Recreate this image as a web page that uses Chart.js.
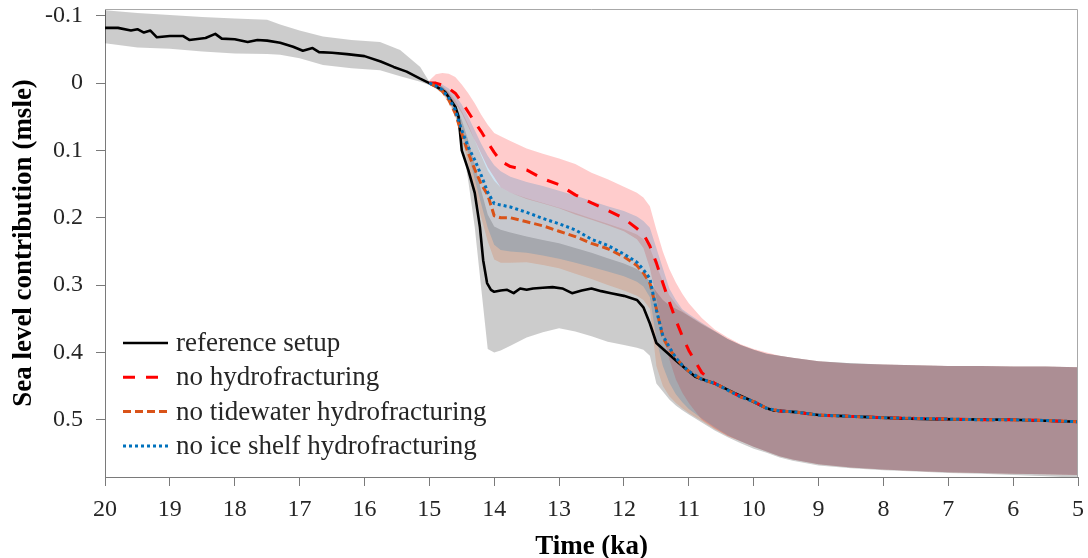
<!DOCTYPE html>
<html>
<head>
<meta charset="utf-8">
<script src="https://cdn.jsdelivr.net/npm/chart.js@4/dist/chart.umd.min.js"></script>
<style>
  html, body { margin: 0; padding: 0; background: #ffffff; }
  #wrap { position: relative; width: 1088px; height: 558px; }
</style>
</head>
<body>
<div id="wrap"><canvas id="c" width="1088" height="558"></canvas></div>
<script>
// ---------------- data (time in ka, sea level contribution in msle) ----------------
const xTicks = [5, 6, 7, 8, 9, 10, 11, 12, 13, 14, 15, 16, 17, 18, 19, 20];
const yTicks = [-0.1, 0, 0.1, 0.2, 0.3, 0.4, 0.5];

// reference setup line
const refTime = [20.0, 19.8, 19.6, 19.5, 19.4, 19.3, 19.2, 19.0, 18.8, 18.7, 18.45, 18.3, 18.2, 18.0, 17.8, 17.65, 17.5, 17.3, 17.1, 16.95, 16.8, 16.7, 16.5, 16.27, 16.0, 15.75, 15.55, 15.35, 15.15,
  15.0, 14.9, 14.76, 14.6, 14.55, 14.5, 14.4, 14.3, 14.22, 14.17, 14.11, 14.05, 14.0, 13.9, 13.8, 13.7, 13.6, 13.5, 13.4, 13.25, 13.1, 12.95, 12.8, 12.65, 12.5, 12.35, 12.2, 12.0, 11.8, 11.7, 11.6, 11.5, 11.35, 11.15, 10.9, 10.6, 10.3, 10.05, 9.8, 9.7, 9.3, 9.0, 8.5, 7.75, 7.25, 6.0, 5.0];
const referenceLine = [-0.082, -0.082, -0.078, -0.080, -0.075, -0.078, -0.068, -0.070, -0.070, -0.064, -0.067, -0.073, -0.066, -0.065, -0.061, -0.064, -0.063, -0.060, -0.054, -0.048, -0.052, -0.046, -0.045, -0.043, -0.040, -0.032, -0.024, -0.017, -0.007,
  0.0, 0.005, 0.013, 0.035, 0.05, 0.10, 0.129, 0.163, 0.214, 0.263, 0.297, 0.307, 0.310, 0.308, 0.307, 0.312, 0.305, 0.307, 0.305, 0.304, 0.303, 0.305, 0.312, 0.308, 0.305, 0.309, 0.312, 0.316, 0.322, 0.333, 0.357, 0.386, 0.399, 0.416, 0.436, 0.446, 0.46, 0.471, 0.483, 0.486, 0.489, 0.493, 0.495, 0.498, 0.499, 0.500, 0.503];

// reference setup spread
const refBandTime = [20.0, 19.5, 19.0, 18.5, 18.0, 17.5, 17.3, 17.0, 16.64, 16.2, 15.76, 15.45, 15.14,
  15.0, 14.9, 14.8, 14.7, 14.6, 14.5, 14.4, 14.3, 14.2, 14.1, 14.0, 13.9, 13.75, 13.5, 13.25, 13.0, 12.75, 12.5, 12.25, 12.0, 11.8, 11.7, 11.6, 11.5, 11.4, 11.3, 11.2, 11.1, 11.0, 10.8, 10.6, 10.4, 10.2, 10.0, 9.8, 9.6, 9.4, 9.0, 8.5, 8.0, 7.5, 7.0, 6.5, 6.0, 5.5, 5.0];
const refUpper = [-0.108, -0.104, -0.101, -0.098, -0.096, -0.094, -0.087, -0.078, -0.069, -0.064, -0.061, -0.049, -0.024,
  -0.002, 0.0, 0.005, 0.015, 0.03, 0.055, 0.085, 0.12, 0.16, 0.195, 0.213, 0.218, 0.222, 0.228, 0.233, 0.238, 0.245, 0.252, 0.26, 0.268, 0.276, 0.283, 0.295, 0.31, 0.322, 0.33, 0.335, 0.34, 0.346, 0.358, 0.369, 0.38, 0.389, 0.396, 0.402, 0.405, 0.408, 0.413, 0.416, 0.418, 0.419, 0.42, 0.42, 0.421, 0.421, 0.422];
const refLower = [-0.059, -0.053, -0.051, -0.047, -0.044, -0.043, -0.042, -0.037, -0.027, -0.022, -0.019, -0.010, -0.002,
  0.003, 0.008, 0.015, 0.025, 0.048, 0.088, 0.145, 0.214, 0.305, 0.395, 0.40, 0.397, 0.39, 0.378, 0.37, 0.364, 0.369, 0.376, 0.384, 0.389, 0.393, 0.396, 0.405, 0.446, 0.458, 0.47, 0.479, 0.486, 0.492, 0.504, 0.516, 0.526, 0.535, 0.543, 0.549, 0.556, 0.561, 0.568, 0.572, 0.575, 0.577, 0.579, 0.58, 0.582, 0.584, 0.586];

// experiments (common time grid, 15 ka -> 5 ka)
const expTime = [15.0, 14.9, 14.8, 14.7, 14.6, 14.5, 14.4, 14.3, 14.2, 14.1, 14.0, 13.9, 13.75, 13.5, 13.25, 13.0, 12.75, 12.5, 12.25, 12.0, 11.8, 11.7, 11.6, 11.5, 11.4, 11.3, 11.2, 11.1, 11.0, 10.8, 10.6, 10.4, 10.2, 10.0, 9.8, 9.6, 9.4, 9.0, 8.5, 8.0, 7.5, 7.0, 6.5, 6.0, 5.5, 5.0];

const noHydroLine = [0.0, 0.0, 0.003, 0.008, 0.015, 0.028, 0.043, 0.058, 0.072, 0.088, 0.103, 0.116, 0.124, 0.129, 0.142, 0.151, 0.166, 0.178, 0.189, 0.201, 0.216, 0.224, 0.242, 0.267, 0.297, 0.325, 0.352, 0.376, 0.397, 0.43, 0.446, 0.456, 0.466, 0.473, 0.483, 0.487, 0.488, 0.493, 0.495, 0.497, 0.498, 0.499, 0.5, 0.5, 0.501, 0.503];
const noHydroUpper = [-0.004, -0.013, -0.015, -0.014, -0.009, 0.002, 0.015, 0.03, 0.047, 0.062, 0.074, 0.079, 0.086, 0.097, 0.105, 0.112, 0.12, 0.133, 0.143, 0.154, 0.163, 0.17, 0.183, 0.218, 0.25, 0.276, 0.296, 0.313, 0.327, 0.349, 0.366, 0.378, 0.388, 0.395, 0.4, 0.405, 0.408, 0.413, 0.417, 0.418, 0.419, 0.42, 0.42, 0.421, 0.421, 0.422];
const noHydroLower = [0.003, 0.006, 0.012, 0.02, 0.03, 0.045, 0.065, 0.085, 0.105, 0.125, 0.14, 0.155, 0.163, 0.172, 0.179, 0.186, 0.195, 0.203, 0.211, 0.22, 0.232, 0.245, 0.275, 0.32, 0.37, 0.41, 0.44, 0.46, 0.475, 0.5, 0.513, 0.524, 0.532, 0.54, 0.547, 0.554, 0.559, 0.566, 0.571, 0.574, 0.576, 0.578, 0.579, 0.58, 0.581, 0.582];

const noTidewaterLine = [0.0, 0.005, 0.012, 0.025, 0.045, 0.075, 0.104, 0.128, 0.15, 0.166, 0.197, 0.2, 0.2, 0.206, 0.212, 0.22, 0.228, 0.238, 0.246, 0.258, 0.271, 0.282, 0.297, 0.335, 0.378, 0.395, 0.408, 0.419, 0.428, 0.44, 0.446, 0.456, 0.466, 0.473, 0.483, 0.487, 0.488, 0.493, 0.495, 0.497, 0.498, 0.499, 0.5, 0.5, 0.501, 0.503];
const noTidewaterUpper = [-0.002, 0.0, 0.005, 0.013, 0.025, 0.042, 0.062, 0.085, 0.108, 0.13, 0.145, 0.155, 0.163, 0.171, 0.178, 0.185, 0.193, 0.201, 0.209, 0.217, 0.225, 0.232, 0.245, 0.27, 0.295, 0.315, 0.328, 0.338, 0.345, 0.357, 0.368, 0.38, 0.389, 0.396, 0.402, 0.405, 0.408, 0.413, 0.416, 0.418, 0.419, 0.42, 0.42, 0.421, 0.421, 0.422];
const noTidewaterLower = [0.003, 0.008, 0.016, 0.03, 0.05, 0.08, 0.12, 0.16, 0.2, 0.235, 0.262, 0.267, 0.267, 0.266, 0.27, 0.275, 0.283, 0.291, 0.3, 0.308, 0.316, 0.322, 0.335, 0.42, 0.45, 0.465, 0.475, 0.483, 0.49, 0.502, 0.514, 0.524, 0.532, 0.54, 0.547, 0.554, 0.559, 0.566, 0.571, 0.574, 0.576, 0.578, 0.579, 0.58, 0.581, 0.582];

const noIceShelfLine = [0.0, 0.004, 0.01, 0.022, 0.04, 0.07, 0.095, 0.114, 0.137, 0.162, 0.179, 0.181, 0.184, 0.192, 0.201, 0.209, 0.218, 0.232, 0.241, 0.254, 0.266, 0.277, 0.29, 0.337, 0.375, 0.392, 0.408, 0.419, 0.428, 0.44, 0.446, 0.456, 0.466, 0.473, 0.483, 0.487, 0.488, 0.493, 0.495, 0.497, 0.498, 0.499, 0.5, 0.5, 0.501, 0.503];
const noIceShelfUpper = [-0.003, -0.002, 0.002, 0.008, 0.018, 0.032, 0.05, 0.07, 0.09, 0.108, 0.122, 0.131, 0.139, 0.147, 0.153, 0.16, 0.167, 0.175, 0.183, 0.19, 0.198, 0.205, 0.215, 0.245, 0.275, 0.305, 0.322, 0.336, 0.343, 0.356, 0.368, 0.38, 0.389, 0.396, 0.402, 0.405, 0.408, 0.413, 0.416, 0.418, 0.419, 0.42, 0.42, 0.421, 0.421, 0.422];
const noIceShelfLower = [0.003, 0.007, 0.014, 0.026, 0.045, 0.072, 0.105, 0.143, 0.18, 0.215, 0.24, 0.248, 0.25, 0.252, 0.256, 0.261, 0.267, 0.273, 0.28, 0.287, 0.295, 0.302, 0.318, 0.38, 0.42, 0.445, 0.462, 0.474, 0.484, 0.498, 0.511, 0.523, 0.532, 0.54, 0.547, 0.554, 0.559, 0.566, 0.571, 0.574, 0.576, 0.578, 0.579, 0.58, 0.581, 0.582];

const seriesLabels = ['reference setup', 'no hydrofracturing', 'no tidewater hydrofracturing', 'no ice shelf hydrofracturing'];

// ---------------- chart ----------------
const FONT = "'Liberation Serif', 'Times New Roman', serif";
const pts = (t, v) => t.map((x, i) => ({ x: x, y: v[i] }));

function bandPair(t, lo, hi, color, order, fillIndex) {
  return [
    { data: pts(t, lo), borderWidth: 0, pointRadius: 0, fill: false, order: order, isBand: true, tension: 0 },
    { data: pts(t, hi), borderWidth: 0, pointRadius: 0, fill: fillIndex, backgroundColor: color, order: order, isBand: true, tension: 0 }
  ];
}
function lineSet(label, t, v, color, width, dash, order) {
  return { label: label, data: pts(t, v), borderColor: color, borderWidth: width, borderDash: dash,
           pointRadius: 0, fill: false, order: order, tension: 0, legendEntry: true,
           borderJoinStyle: 'round', borderCapStyle: 'butt' };
}

const datasets = [
  ...bandPair(refBandTime, refLower, refUpper, 'rgba(0,0,0,0.2)', 40, 0),
  ...bandPair(expTime, noHydroLower, noHydroUpper, 'rgba(255,0,0,0.2)', 30, 2),
  ...bandPair(expTime, noTidewaterLower, noTidewaterUpper, 'rgba(217,83,25,0.2)', 20, 4),
  ...bandPair(expTime, noIceShelfLower, noIceShelfUpper, 'rgba(0,114,189,0.2)', 10, 6),
  lineSet(seriesLabels[0], refTime, referenceLine, '#000000', 2.6, [], 4),
  lineSet(seriesLabels[1], expTime, noHydroLine, '#ff0000', 3, [12, 11], 3),
  lineSet(seriesLabels[2], expTime, noTidewaterLine, '#d95319', 3, [8, 4], 2),
  lineSet(seriesLabels[3], expTime, noIceShelfLine, '#0072bd', 3, [3, 3], 1)
];

const boxPlugin = {
  id: 'boxPlugin',
  afterDraw(chart) {
    const { ctx, chartArea: a } = chart;
    ctx.save();
    ctx.strokeStyle = '#a8a8a8';
    ctx.lineWidth = 1;
    ctx.beginPath();
    ctx.moveTo(a.left, a.top + 0.5);
    ctx.lineTo(a.right - 0.5, a.top + 0.5);
    ctx.lineTo(a.right - 0.5, a.bottom);
    ctx.stroke();
    ctx.restore();
  }
};

const legendPlugin = {
  id: 'insetLegend',
  afterDraw(chart) {
    const { ctx, chartArea: a } = chart;
    const items = chart.data.datasets.filter(d => d.legendEntry);
    ctx.save();
    ctx.font = "27px " + FONT;
    ctx.textBaseline = 'middle';
    ctx.textAlign = 'left';
    items.forEach((d, i) => {
      const y = 343 + i * 34.3;
      ctx.strokeStyle = d.borderColor;
      ctx.lineWidth = d.borderWidth;
      ctx.setLineDash(d.borderDash || []);
      ctx.beginPath();
      ctx.moveTo(a.left + 18, y);
      ctx.lineTo(a.left + 63, y);
      ctx.stroke();
      ctx.setLineDash([]);
      ctx.fillStyle = '#262626';
      ctx.fillText(d.label, a.left + 71, y + 1);
    });
    ctx.restore();
  }
};

new Chart(document.getElementById('c'), {
  type: 'line',
  data: { datasets: datasets },
  plugins: [boxPlugin, legendPlugin],
  options: {
    responsive: false,
    animation: false,
    layout: { padding: { top: 9, right: 10, left: 0, bottom: 0 } },
    plugins: { legend: { display: false }, tooltip: { enabled: false },
               filler: { propagate: false } },
    scales: {
      x: {
        type: 'linear', reverse: true, min: 5, max: 20,
        afterBuildTicks: s => { s.ticks = xTicks.map(v => ({ value: v })); },
        afterFit: s => { s.height = 81; s.paddingLeft = 0; s.paddingRight = 0; },
        grid: { drawOnChartArea: false, drawTicks: true, tickLength: 9, color: '#7a7a7a' },
        border: { display: true, color: '#7a7a7a', width: 1 },
        ticks: { color: '#262626', font: { family: FONT, size: 24 }, padding: 9, maxRotation: 0,
                 autoSkip: false, callback: v => String(v) },
        title: { display: true, text: 'Time (ka)', color: '#000000',
                 font: { family: FONT, size: 27, weight: 'bold', lineHeight: 1 },
                 padding: { top: 0, bottom: -3 } }
      },
      y: {
        type: 'linear', reverse: true, min: -0.11, max: 0.585,
        afterBuildTicks: s => { s.ticks = yTicks.map(v => ({ value: v })); },
        afterFit: s => { s.width = 105; s.paddingTop = 0; s.paddingBottom = 0; },
        grid: { drawOnChartArea: false, drawTicks: true, tickLength: 9, color: '#7a7a7a' },
        border: { display: true, color: '#7a7a7a', width: 1 },
        ticks: { color: '#262626', font: { family: FONT, size: 24 }, padding: 13, autoSkip: false,
                 callback: v => (Math.abs(v) < 1e-9 ? '0' : v.toFixed(1)) },
        title: { display: true, text: 'Sea level contribution (msle)', color: '#000000',
                 font: { family: FONT, size: 27, weight: 'bold', lineHeight: 1 },
                 padding: { top: 11, bottom: 0 } }
      }
    }
  }
});
</script>
</body>
</html>
